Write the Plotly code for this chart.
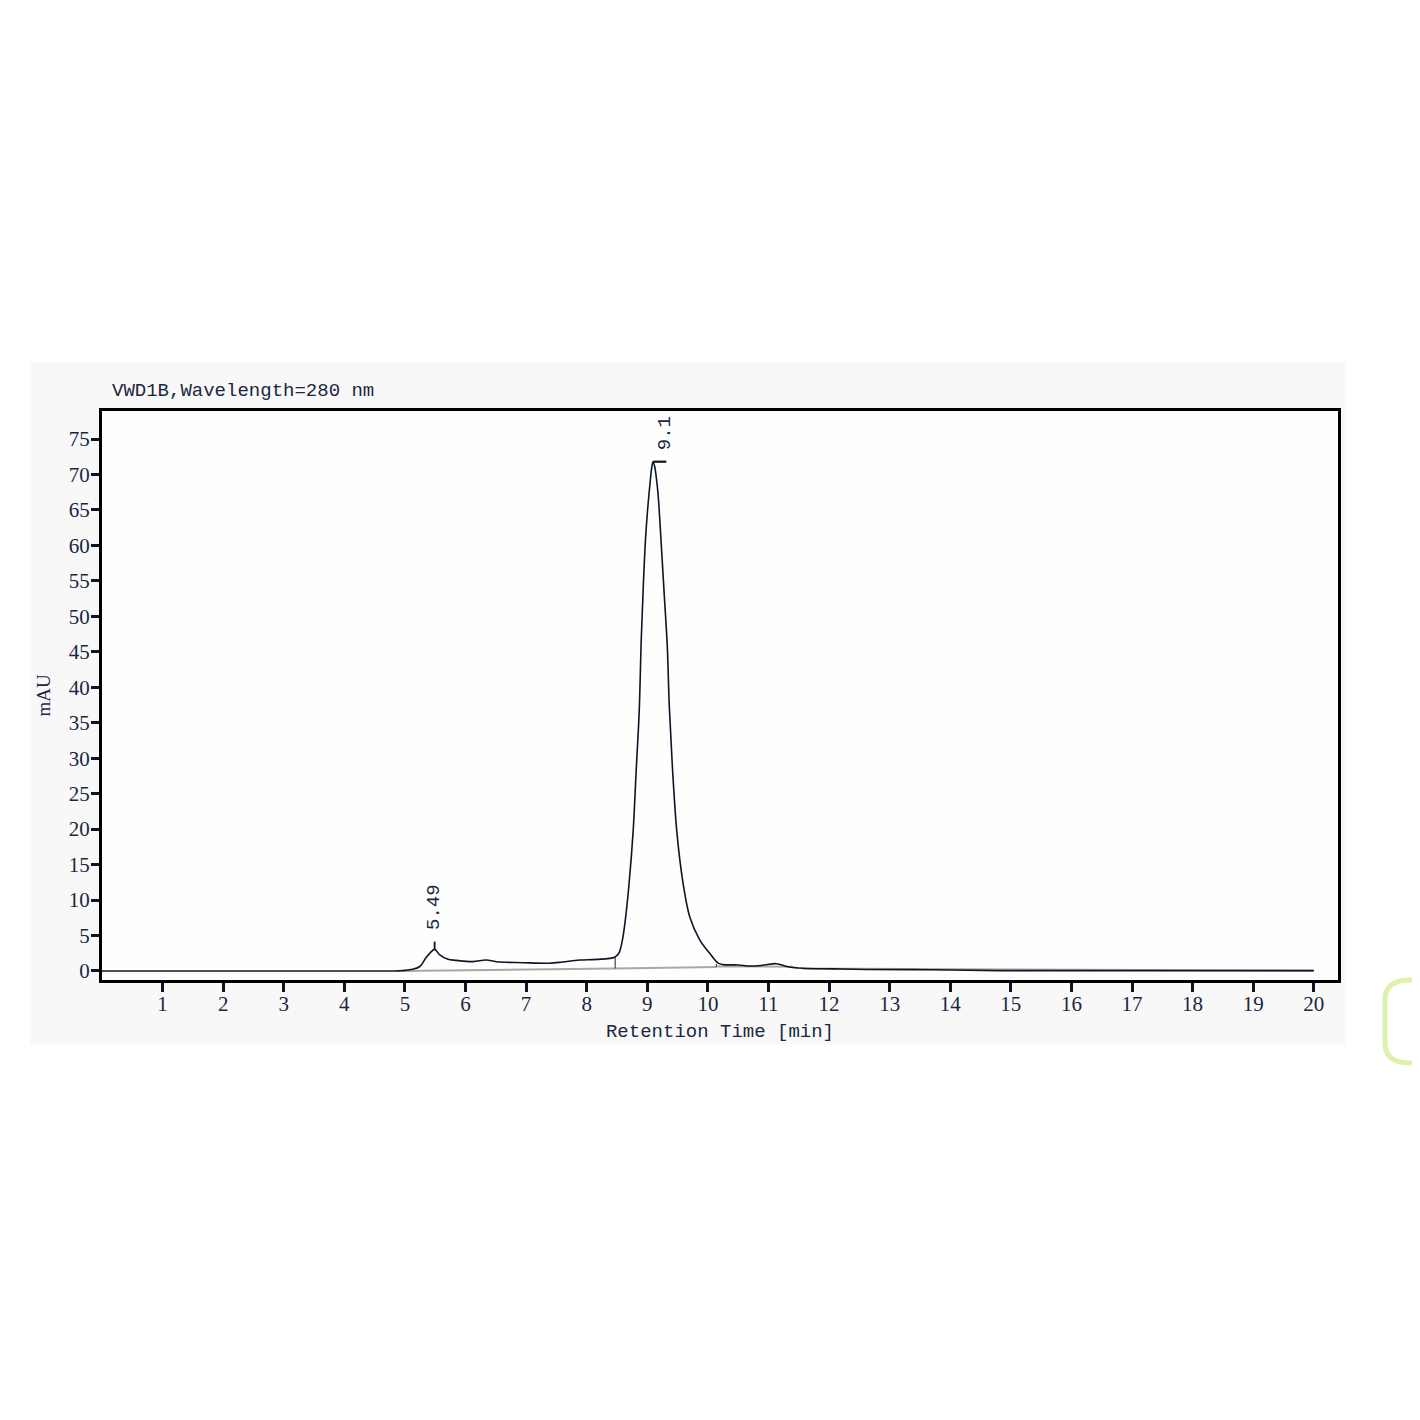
import plotly.graph_objects as go

# ---- data ----
time_min = [0.0, 4.8, 4.96, 5.1, 5.24, 5.35, 5.42, 5.49, 5.57, 5.71, 5.84, 6.12, 6.34, 6.51,
            6.95, 7.39, 7.6, 7.88, 8.16, 8.46, 8.53, 8.59, 8.643, 8.70, 8.764, 8.82, 8.866,
            8.90, 8.935, 8.97, 9.005, 9.04, 9.07, 9.094, 9.12, 9.15, 9.177, 9.20, 9.226,
            9.28, 9.33, 9.362, 9.414, 9.49, 9.59, 9.70, 9.865, 10.03, 10.17, 10.25, 10.5,
            10.69, 10.9, 11.13, 11.32, 11.57, 12.07, 12.62, 13.7, 14.8, 20.0]
signal_mau = [0.0, 0.0, 0.05, 0.2, 0.6, 1.9, 2.6, 3.05, 2.3, 1.64, 1.5, 1.32, 1.55, 1.3,
              1.17, 1.1, 1.27, 1.55, 1.64, 1.95, 2.5, 4.4, 7.6, 12.4, 19.4, 28.8, 36.5,
              46.7, 54.5, 60.8, 65.0, 68.3, 70.8, 71.8, 71.2, 69.5, 67.3, 64.5, 60.8,
              53.0, 45.8, 37.5, 28.8, 19.4, 12.4, 7.65, 4.4, 2.5, 1.1, 0.9, 0.85,
              0.7, 0.8, 1.03, 0.6, 0.38, 0.3, 0.22, 0.18, 0.05, 0.05]

# integration baselines (grey) and peak boundary drops
base_segments_t = [[4.96, 8.47], [8.47, 10.14], [10.14, 11.4], [11.55, 20.0]]
base_segments_v = [[0.0, 0.35], [0.35, 0.55], [0.65, 0.6], [0.35, 0.05]]
drop_times = [8.47, 10.14]
drop_low = [0.35, 0.55]
drop_high = [1.95, 1.0]

peak_times = [5.49, 9.094]
peak_heights = [3.05, 71.8]
peak_labels = ["5.49", "9.1"]

x_ticks = list(range(1, 21))
y_ticks = list(range(0, 80, 5))

LINE = "#0b1726"
TXT = "#1b2740"
GREY = "#a8a8a8"

fig = go.Figure()

for st, sv in zip(base_segments_t, base_segments_v):
    fig.add_trace(go.Scatter(x=st, y=sv, mode="lines",
                             line=dict(color=GREY, width=2), hoverinfo="skip"))
for dt, lo, hi in zip(drop_times, drop_low, drop_high):
    fig.add_trace(go.Scatter(x=[dt, dt], y=[lo, hi], mode="lines",
                             line=dict(color="#444", width=1.2), hoverinfo="skip"))

fig.add_trace(go.Scatter(x=time_min, y=signal_mau, mode="lines",
                         line=dict(color=LINE, width=1.6, shape="spline", smoothing=1.0)))

# apex markers
fig.add_trace(go.Scatter(x=[peak_times[0], peak_times[0]],
                         y=[peak_heights[0], peak_heights[0] + 1.1], mode="lines",
                         line=dict(color=LINE, width=1.8), hoverinfo="skip"))
fig.add_trace(go.Scatter(x=[peak_times[1], peak_times[1] + 0.22],
                         y=[peak_heights[1], peak_heights[1]], mode="lines",
                         line=dict(color=LINE, width=2.2), hoverinfo="skip"))

label_pos = [(peak_times[0], peak_heights[0] + 2.4), (peak_times[1] + 0.21, peak_heights[1] + 1.3)]
for (lx, ly), lab in zip(label_pos, peak_labels):
    fig.add_annotation(x=lx, y=ly, text=lab, textangle=-90, showarrow=False,
                       xanchor="center", yanchor="bottom",
                       font=dict(family="Liberation Mono", size=19, color=TXT))

# page decoration: faint grey panel (white inside the frame) and green rounded frame at right edge
fig.add_shape(type="rect", xref="paper", yref="paper", x0=-0.058, x1=1.006, y0=-0.114, y1=1.086,
              fillcolor="#f8f8f8", line=dict(width=0), layer="below")
fig.add_shape(type="rect", xref="paper", yref="paper", x0=0, x1=1, y0=0, y1=1,
              fillcolor="#fefefe", line=dict(width=0), layer="below")
fig.add_shape(type="path", xref="paper", yref="paper",
              path="M 1.08,-0.0 L 1.058,-0.0 Q 1.038,-0.0 1.038,-0.035 L 1.038,-0.11 "
                   "Q 1.038,-0.146 1.058,-0.146 L 1.08,-0.146",
              line=dict(color="#dcf2ad", width=5), fillcolor="rgba(0,0,0,0)")

# the page body has an 8px margin, so the figure starts at (8, 8)
W = 1412
fig.update_layout(
    width=W, height=W,
    margin=dict(l=94, r=82, t=403, b=440),
    paper_bgcolor="white", plot_bgcolor="white",
    showlegend=False,
    title=dict(text="VWD1B,Wavelength=280 nm", x=(112 - 8) / W, xanchor="left",
               y=1 - (389 - 8) / W, yanchor="middle",
               font=dict(family="Liberation Mono", size=19, color=TXT)),
    xaxis=dict(range=[0, 20.4], tickvals=x_ticks, ticktext=[str(v) for v in x_ticks],
               ticks="outside", ticklen=9, tickwidth=3, tickcolor="#0b1726",
               ticklabelstandoff=-6,
               showline=True, linecolor="black", linewidth=3, mirror=True,
               showgrid=False, zeroline=False,
               tickfont=dict(family="Liberation Serif", size=21, color=TXT),
               title=dict(text="Retention Time [min]", standoff=9,
                          font=dict(family="Liberation Mono", size=19, color=TXT))),
    yaxis=dict(range=[-1.27, 78.95], tickvals=y_ticks, ticktext=[str(v) for v in y_ticks],
               ticks="outside", ticklen=8, tickwidth=3, tickcolor="#0b1726",
               ticklabelstandoff=-3,
               showline=True, linecolor="black", linewidth=3, mirror=True,
               showgrid=False, zeroline=False,
               tickfont=dict(family="Liberation Serif", size=21, color=TXT),
               title=dict(text="mAU", standoff=14,
                          font=dict(family="Liberation Serif", size=19, color=TXT))),
)

fig.write_html("out.html")
